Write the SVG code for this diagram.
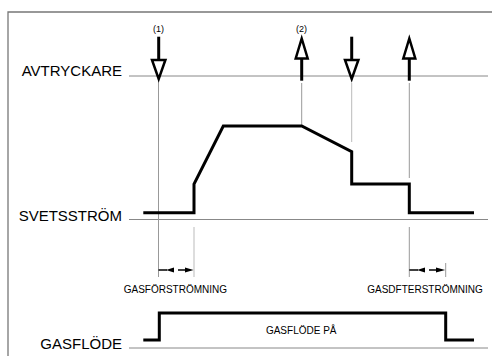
<svg xmlns="http://www.w3.org/2000/svg" width="492" height="356" viewBox="0 0 492 356">
<style>
.frame{fill:none;stroke:#777;stroke-width:1.3}
.axis{fill:none;stroke:#888;stroke-width:1}
.guide{fill:none;stroke:#999;stroke-width:1}
.light{fill:none;stroke:#bbb;stroke-width:1}
.sig{fill:none;stroke:#000;stroke-width:3;stroke-linejoin:miter}
.shaft{fill:none;stroke:#000;stroke-width:3}
.head{fill:#fff;stroke:#000;stroke-width:2.5;stroke-linejoin:miter}
.big{font-family:"Liberation Sans",Arial,sans-serif;font-size:15px;fill:#000;text-anchor:end}
.small{font-family:"Liberation Sans",Arial,sans-serif;font-size:10px;fill:#000;text-anchor:middle}
.tiny{font-family:"Liberation Sans",Arial,sans-serif;font-size:9px;fill:#000;text-anchor:middle}
.dim{fill:none;stroke:#000;stroke-width:1.5}
.dimhead{fill:#000;stroke:none}
</style>
<rect width="492" height="356" fill="#fff"/>
<path class="frame" d="M8,356 V12 H492"/>

<g id="axes">
  <line class="axis" x1="129" y1="76" x2="488" y2="76"/>
  <line class="axis" x1="129" y1="219.5" x2="488" y2="219.5"/>
  <line class="axis" x1="129" y1="348" x2="488" y2="348"/>
</g>

<g id="labels">
  <text class="big" x="122" y="76">AVTRYCKARE</text>
  <text class="big" x="122" y="221">SVETSSTRÖM</text>
  <text class="big" x="122" y="349">GASFLÖDE</text>
</g>

<g id="connectors">
  <line class="guide" x1="158.5" y1="80" x2="158.5" y2="277"/>
  <line class="light" x1="194" y1="227" x2="194" y2="277"/>
  <line class="guide" x1="301.7" y1="83" x2="301.7" y2="126"/>
  <line class="light" x1="351.7" y1="83" x2="351.7" y2="142"/>
  <line class="guide" x1="409.3" y1="83" x2="409.3" y2="178"/>
  <line class="guide" x1="409.3" y1="227" x2="409.3" y2="277"/>
  <line class="guide" x1="445.7" y1="263" x2="445.7" y2="277"/>
</g>

<g id="trigger1">
  <line class="shaft" x1="158.7" y1="36.7" x2="158.7" y2="60"/>
  <path class="head" d="M152,60 H165.4 L158.7,79 Z"/>
  <text class="tiny" x="158.5" y="32">(1)</text>
</g>
<g id="trigger2">
  <line class="shaft" x1="301.7" y1="58" x2="301.7" y2="80.7"/>
  <path class="head" d="M295.7,58.5 H307.7 L301.7,38.5 Z"/>
  <text class="tiny" x="301.5" y="32">(2)</text>
</g>
<g id="trigger3">
  <line class="shaft" x1="351.7" y1="36.7" x2="351.7" y2="60"/>
  <path class="head" d="M345,60 H358.4 L351.7,79 Z"/>
</g>
<g id="trigger4">
  <line class="shaft" x1="409.3" y1="58" x2="409.3" y2="80.7"/>
  <path class="head" d="M403.3,58.5 H415.3 L409.3,38.5 Z"/>
</g>

<g id="current">
  <path class="sig" d="M143.3,212.7 H194 V184 L223.3,126 H301.7 L351.7,151.7 V184 H409.3 V212.7 H474"/>
</g>

<g id="gasflow">
  <path class="sig" d="M143.3,340 H159.3 V313 H445.7 V340 H474"/>
  <text class="small" x="301.2" y="334">GASFLÖDE PÅ</text>
</g>

<g id="preflow">
  <line class="dim" x1="158.5" y1="270" x2="167" y2="270"/>
  <path class="dimhead" d="M166,270 L174,267.5 V272.5 Z"/>
  <line class="dim" x1="178" y1="270" x2="186" y2="270"/>
  <path class="dimhead" d="M185,267.5 L193.5,270 L185,272.5 Z"/>
  <text class="small" x="175.4" y="292.5">GASFÖRSTRÖMNING</text>
</g>

<g id="postflow">
  <line class="dim" x1="409.3" y1="270" x2="418" y2="270"/>
  <path class="dimhead" d="M417,270 L425,267.5 V272.5 Z"/>
  <line class="dim" x1="429" y1="270" x2="437" y2="270"/>
  <path class="dimhead" d="M436,267.5 L445.2,270 L436,272.5 Z"/>
  <text class="small" x="425" y="292.5">GASDFTERSTRÖMNING</text>
</g>
</svg>
